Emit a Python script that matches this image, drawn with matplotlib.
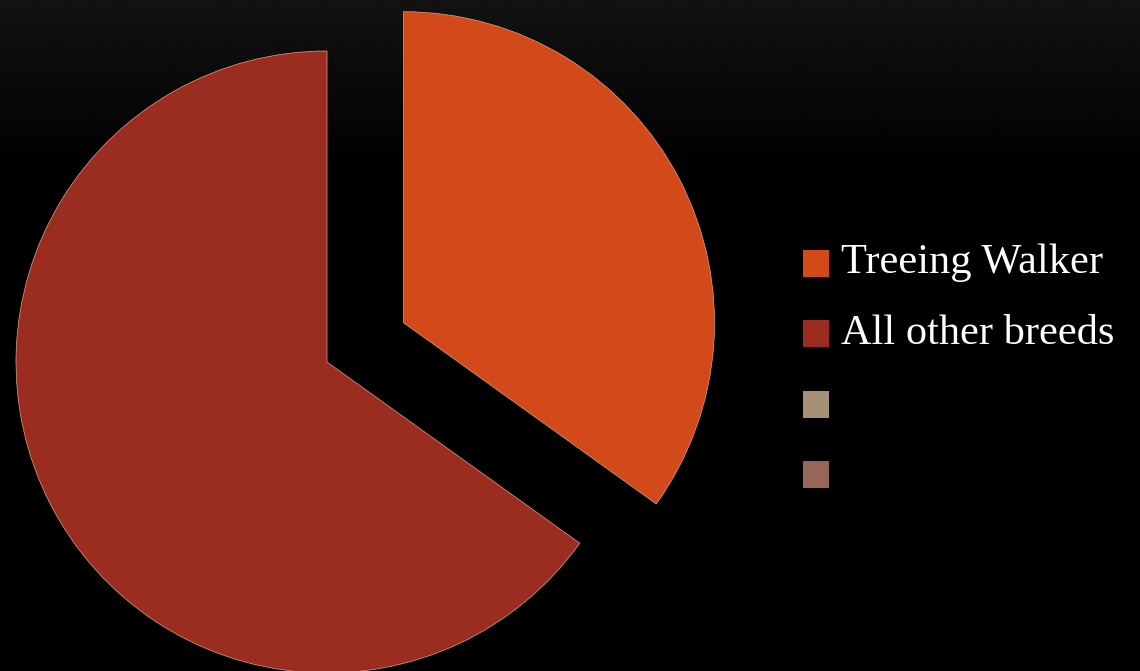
import matplotlib
matplotlib.use('Agg')
import matplotlib.pyplot as plt
import numpy as np
from matplotlib.patches import Rectangle

labels = ['Treeing Walker', 'All other breeds', '', '']
values = [34.9, 65.1]
colors = ['#D2491A', '#9B2C20', '#A59274', '#976657']

W, H = 1140, 671
fig = plt.figure(figsize=(W / 100, H / 100), dpi=100)
fig.patch.set_facecolor('black')
ax = fig.add_axes([0, 0, 1, 1])

# background gradient (dark grey at top fading to black)
rows = np.arange(H)
vals = np.clip(1 - rows / 175.0, 0, 1) * (0x13 / 255)
img = np.repeat(vals[:, None], 2, axis=1)
ax.imshow(img, extent=[0, W, 0, H], cmap='gray', vmin=0, vmax=1,
          aspect='auto', origin='upper', zorder=0, interpolation='bilinear')

radius = 311
center = (327, H - 362)
# note: pie's explode offset is in data units here
ax.pie(values, colors=colors[:2], startangle=90, counterclock=False,
       center=center, radius=radius, explode=[86, 0],
       wedgeprops=dict(edgecolor='#e8a08a', linewidth=0.5, zorder=2))

ax.set_xlim(0, W)
ax.set_ylim(0, H)
ax.set_aspect('auto')
ax.axis('off')

# legend
sq_x, sq_w, sq_h = 803, 26, 27
first_center = 263.5
spacing = 70.3
for i, (lab, col) in enumerate(zip(labels, colors)):
    cy = first_center + i * spacing
    ax.add_patch(Rectangle((sq_x, H - cy - sq_h / 2), sq_w, sq_h,
                           facecolor=col, edgecolor='none', zorder=3))
    if lab:
        ax.text(841, H - (cy + 10), lab, color='white', fontsize=30.5,
                family=['Liberation Serif', 'DejaVu Serif'], va='baseline',
                ha='left', zorder=3)

fig.savefig('out.png', dpi=100, facecolor='black')
